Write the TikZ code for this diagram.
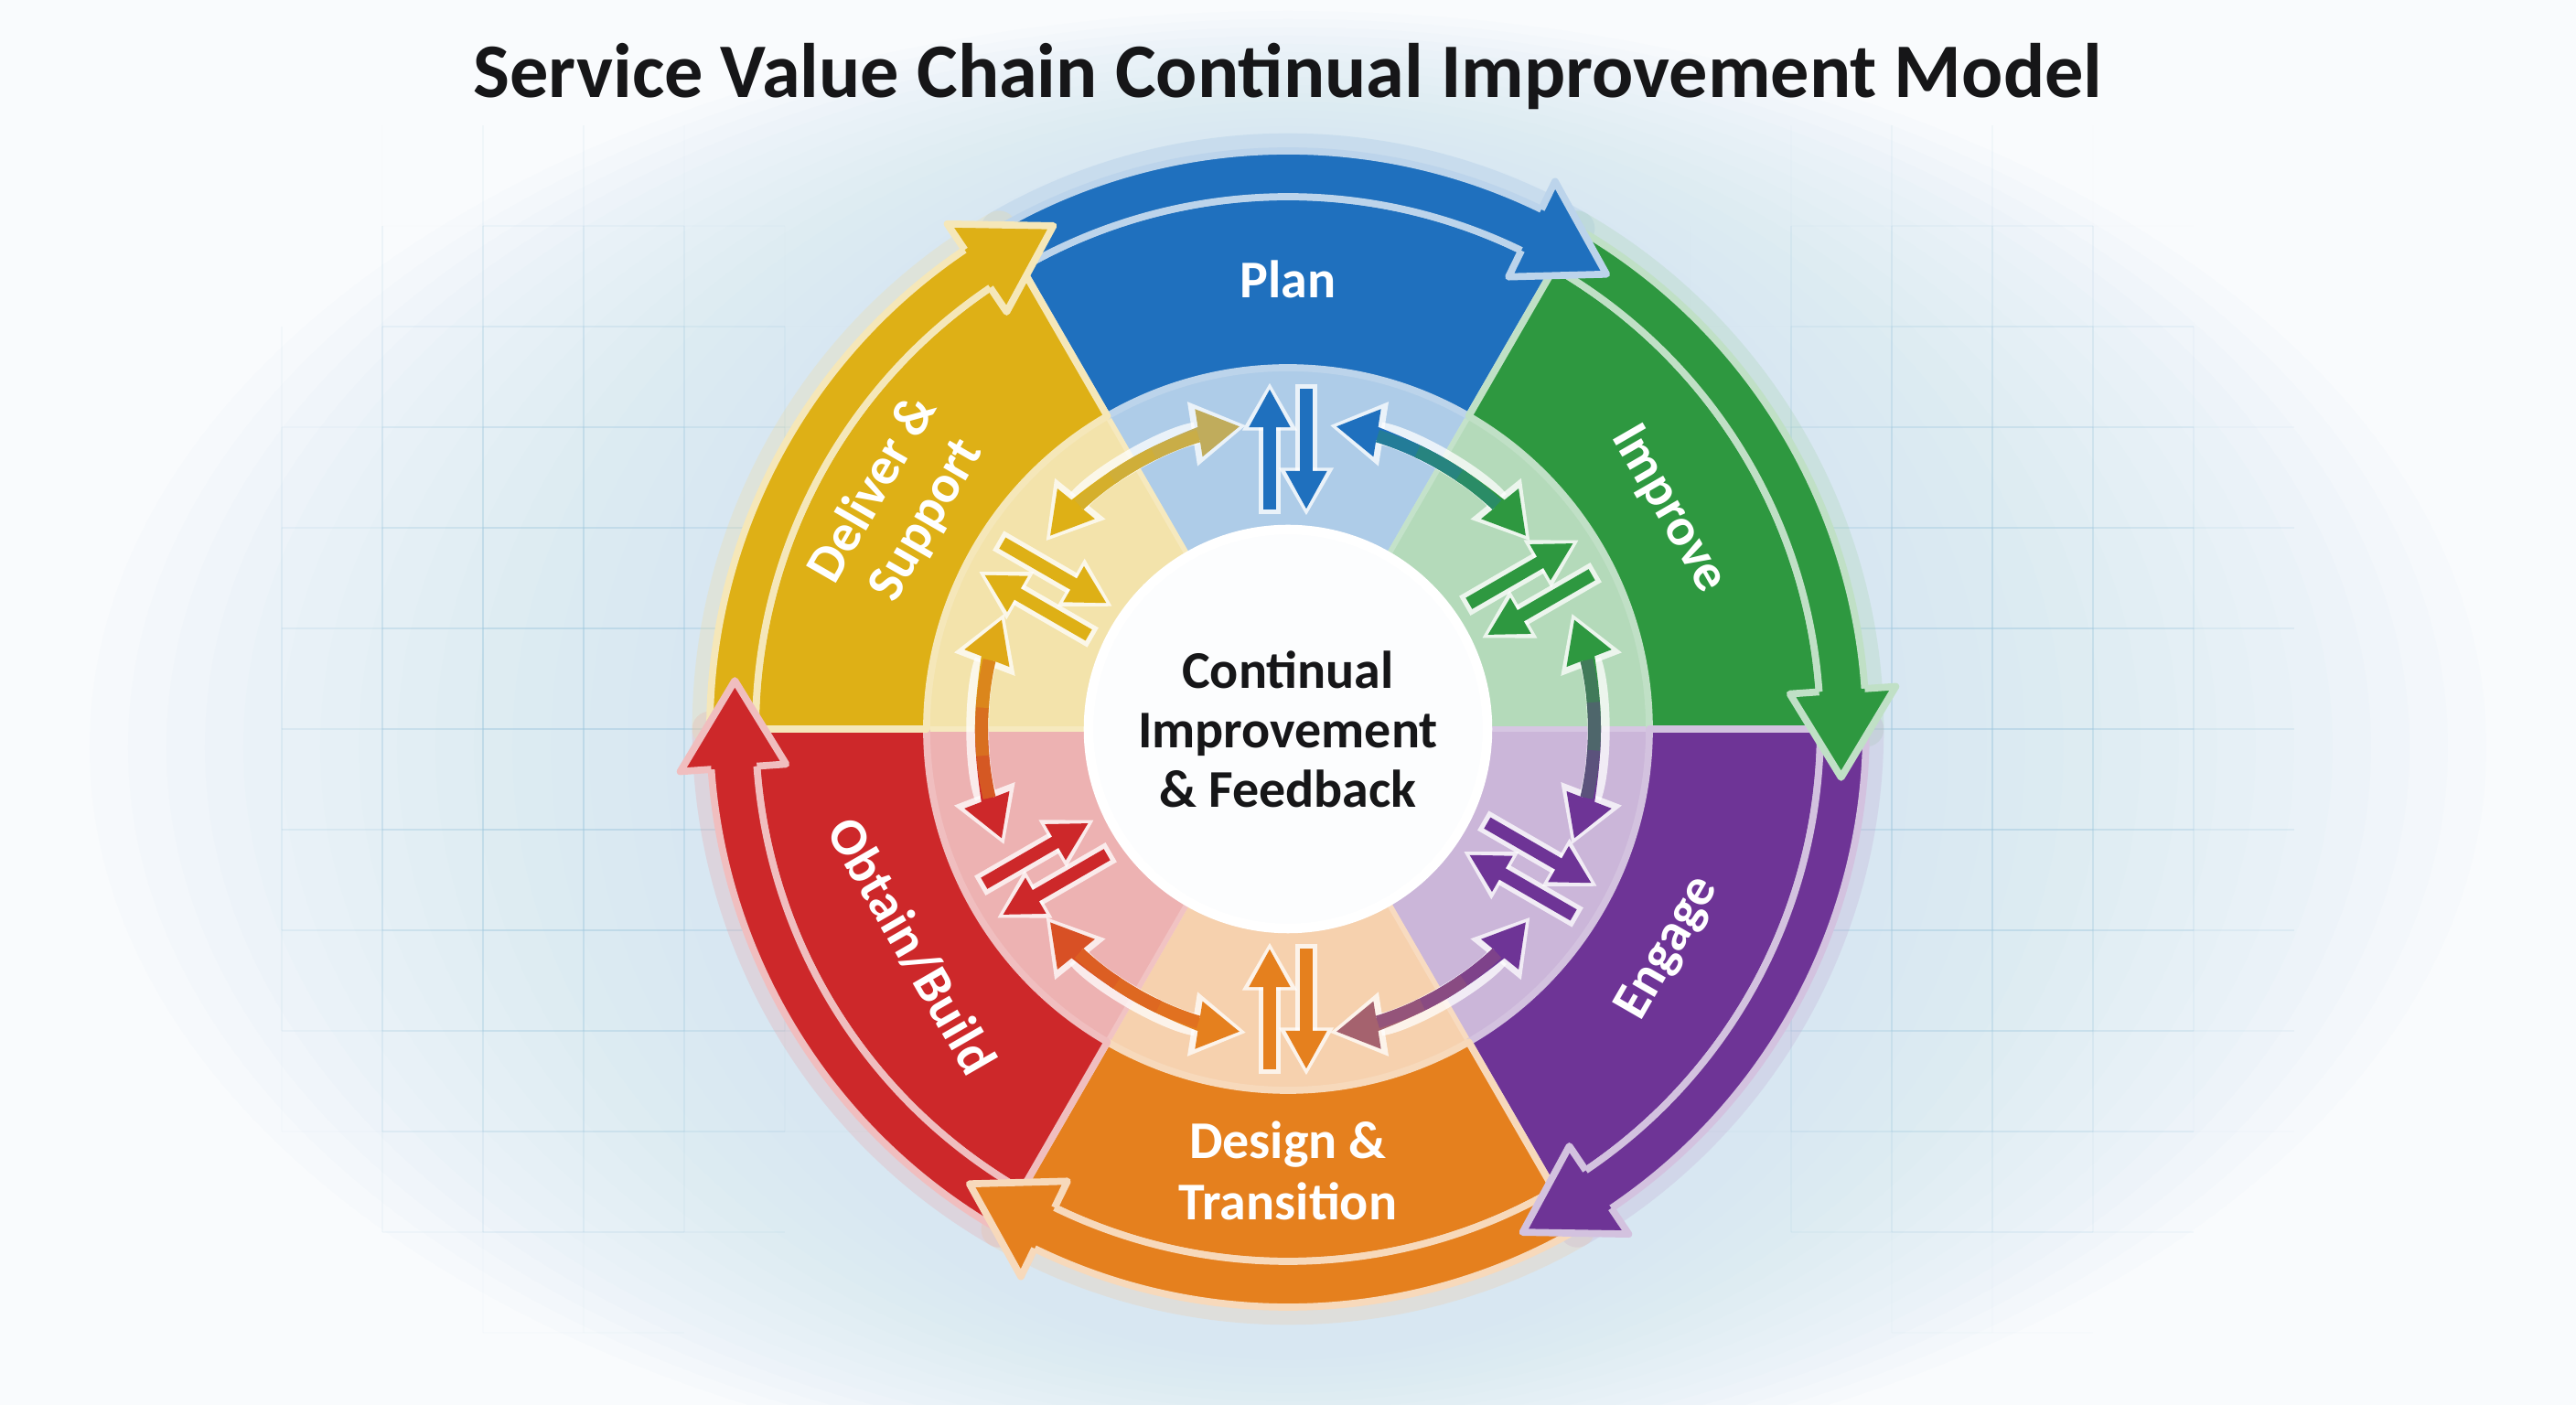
\documentclass[tikz,border=0pt]{standalone}
\usepackage{fontspec}
\setmainfont{Carlito}
\usetikzlibrary{arrows.meta}

\definecolor{planblue}{RGB}{31,112,190}
\definecolor{improvegreen}{RGB}{46,152,64}
\definecolor{engagepurple}{RGB}{110,52,150}
\definecolor{designorange}{RGB}{229,128,30}
\definecolor{obtainred}{RGB}{205,40,42}
\definecolor{deliveryellow}{RGB}{222,176,22}
\definecolor{mauve}{RGB}{165,98,110}
\definecolor{khaki}{RGB}{192,172,92}
\definecolor{bgwhite}{RGB}{249,251,253}
\definecolor{bgblue}{RGB}{205,229,242}
\definecolor{gridblue}{RGB}{160,200,222}
\definecolor{inktext}{RGB}{22,22,24}

% annular sector of 60 degrees: start angle, inner radius, outer radius, style
\newcommand{\ringsector}[4]{%
  \path[#4] (#1:#2) -- (#1:#3) arc[start angle=#1, end angle=#1+60, radius=#3]
    -- (#1+60:#2) arc[start angle=#1+60, end angle=#1, radius=#2] -- cycle;}
% outer band of a segment and its head (clockwise)
\newcommand{\bandshaft}[2]{%
  \path[#2] (#1+60:6.32) arc[start angle=#1+60, end angle=#1+3, radius=6.32]
    -- (#1+3:5.82) arc[start angle=#1+3, end angle=#1+60, radius=5.82] -- cycle;}
\newcommand{\bandhead}[2]{%
  \path[#2] (#1+4:5.82) -- (#1+4:5.50) -- (#1-5:6.07) -- (#1+4:6.66) -- (#1+4:6.32);}
% curved two-way arrow across a boundary: angle, colour at ccw end, colour at cw end
\newcommand{\linkarrow}[3]{%
  \begin{scope}[rotate=#1]
    \draw[linkhalo] (21:3.35) arc[start angle=21, end angle=-21, radius=3.35];
    \draw[linkline, #2, {Triangle[width=14pt,length=13pt]}-] (21:3.35) arc[start angle=21, end angle=0, radius=3.35];
    \draw[linkline, #3, -{Triangle[width=14pt,length=13pt]}] (0:3.35) arc[start angle=0, end angle=-21, radius=3.35];
    \draw[linkline, #2!70!#3] (13:3.35) arc[start angle=13, end angle=4, radius=3.35];
    \draw[linkline, #2!50!#3] (5:3.35) arc[start angle=5, end angle=-5, radius=3.35];
    \draw[linkline, #2!30!#3] (-4:3.35) arc[start angle=-4, end angle=-13, radius=3.35];
  \end{scope}}
% pair of radial arrows: mid angle, colour
\newcommand{\pairarrows}[2]{%
  \begin{scope}[rotate=#1]
    \draw[pairhalo] (2.40,0.2) -- (3.72,0.2);
    \draw[pairhalo] (3.72,-0.2) -- (2.40,-0.2);
    \draw[pairline, #2] (2.40,0.2) -- (3.72,0.2);
    \draw[pairline, #2] (3.72,-0.2) -- (2.40,-0.2);
  \end{scope}}

\tikzset{
    outerpart/.style={
        fill=#1, draw=#1!30!white, line width=2.2pt, line join=round
    },
    innerpart/.style={
        fill=#1!36!white, draw=white!72!#1, line width=1.6pt
    },
    glowpart/.style={
        draw=#1!45!white, line width=11pt, opacity=.25, line join=round
    },
    seglabel/.style={
        text=white, font=\bfseries\fontsize{16.5}{19}\selectfont, align=center
    },
    linkhalo/.style={
        draw=white, line width=7pt, opacity=.75, shorten <=-2pt, shorten >=-2pt,
        {Triangle[width=19pt,length=17pt]}-{Triangle[width=19pt,length=17pt]}
    },
    linkline/.style={line width=4pt},
    pairhalo/.style={
        draw=white, line width=7pt, opacity=.75, shorten >=-2pt, shorten <=-1.5pt,
        -{Triangle[width=16pt,length=15pt]}
    },
    pairline/.style={line width=4pt, -{Triangle[width=12pt,length=12pt]}},
    gridline/.style={draw=gridblue, line width=.8pt}
}

\begin{document}
\begin{tikzpicture}
\useasboundingbox (-14.08,-7.39) rectangle (14.08,7.97);
% background, soft glow and faint grid
\fill[bgwhite] (-14.08,-7.39) rectangle (14.08,7.97);
\foreach \k in {0,...,15}
  \fill[bgblue, opacity=.065] (0,-0.2) ellipse[x radius={6.8+0.42*\k}, y radius={6.7+0.09*\k}];
\foreach \i in {-10,...,9}{
  \foreach \j in {-7,...,5}{
    \pgfmathsetmacro\gx{1.1*\i}
    \pgfmathsetmacro\gy{1.1*\j}
    \pgfmathsetmacro\op{max(0,0.5*(1-((abs(\gx+0.55)-7.6)/3.8)^2-((\gy+0.3)/6.6)^2))}
    \draw[gridline, opacity=\op] (\gx,\gy) -- ++(1.1,0);
    \draw[gridline, opacity=\op] (\gx,\gy) -- ++(0,1.1);
  }
}
% glow
\ringsector{60}{3.95}{6.32}{glowpart=planblue}
\ringsector{0}{3.95}{6.32}{glowpart=improvegreen}
\ringsector{300}{3.95}{6.32}{glowpart=engagepurple}
\ringsector{240}{3.95}{6.32}{glowpart=designorange}
\ringsector{180}{3.95}{6.32}{glowpart=obtainred}
\ringsector{120}{3.95}{6.32}{glowpart=deliveryellow}
% pale inner ring
\ringsector{60}{2.18}{3.95}{innerpart=planblue}
\ringsector{0}{2.18}{3.95}{innerpart=improvegreen}
\ringsector{300}{2.18}{3.95}{innerpart=engagepurple}
\ringsector{240}{2.18}{3.95}{innerpart=designorange}
\ringsector{180}{2.18}{3.95}{innerpart=obtainred}
\ringsector{120}{2.18}{3.95}{innerpart=deliveryellow}
% coloured segments
\ringsector{60}{3.95}{5.82}{outerpart=planblue}
\ringsector{0}{3.95}{5.82}{outerpart=improvegreen}
\ringsector{300}{3.95}{5.82}{outerpart=engagepurple}
\ringsector{240}{3.95}{5.82}{outerpart=designorange}
\ringsector{180}{3.95}{5.82}{outerpart=obtainred}
\ringsector{120}{3.95}{5.82}{outerpart=deliveryellow}
% outer cycle arrows
\bandshaft{60}{outerpart=planblue}
\bandshaft{0}{outerpart=improvegreen}
\bandshaft{300}{outerpart=engagepurple}
\bandshaft{240}{outerpart=designorange}
\bandshaft{180}{outerpart=obtainred}
\bandshaft{120}{outerpart=deliveryellow}
\bandhead{60}{outerpart=planblue}
\bandhead{0}{outerpart=improvegreen}
\bandhead{300}{outerpart=engagepurple}
\bandhead{240}{outerpart=designorange}
\bandhead{180}{outerpart=obtainred}
\bandhead{120}{outerpart=deliveryellow}
% hub
\node[circle, minimum size=4.36cm, inner sep=0pt, fill=white!94!bgblue, draw=white, line width=3pt,
      text=inktext, align=center, font=\bfseries\fontsize{16.5}{18.5}\selectfont] (hub) at (0,0)
      {Continual\\Improvement\\\& Feedback};
% links between stages
\linkarrow{60}{planblue}{improvegreen}
\linkarrow{0}{improvegreen}{engagepurple}
\linkarrow{-60}{engagepurple}{mauve}
\linkarrow{-120}{designorange}{obtainred!55!designorange}
\linkarrow{180}{obtainred}{deliveryellow!85!designorange}
\linkarrow{120}{deliveryellow}{khaki}
\pairarrows{90}{planblue}
\pairarrows{30}{improvegreen}
\pairarrows{-30}{engagepurple}
\pairarrows{-90}{designorange}
\pairarrows{-150}{obtainred}
\pairarrows{150}{deliveryellow}
% labels
\node[seglabel] (plan) at (90:4.92) {Plan};
\node[seglabel, rotate=-60] (improve) at (30:4.8) {Improve};
\node[seglabel, rotate=60] (engage) at (-30:4.8) {Engage};
\node[seglabel] (design) at (-90:4.83) {Design \&\\Transition};
\node[seglabel, rotate=-60] (obtain) at (210:4.75) {Obtain/Build};
\node[seglabel, rotate=60] (deliver) at (150:4.9) {Deliver \&\\Support};
\node[anchor=base, text=inktext, font=\fontsize{24}{28}\selectfont\bfseries] (title) at (0,6.90)
      {Service Value Chain Continual Improvement Model};
\end{tikzpicture}
\end{document}
